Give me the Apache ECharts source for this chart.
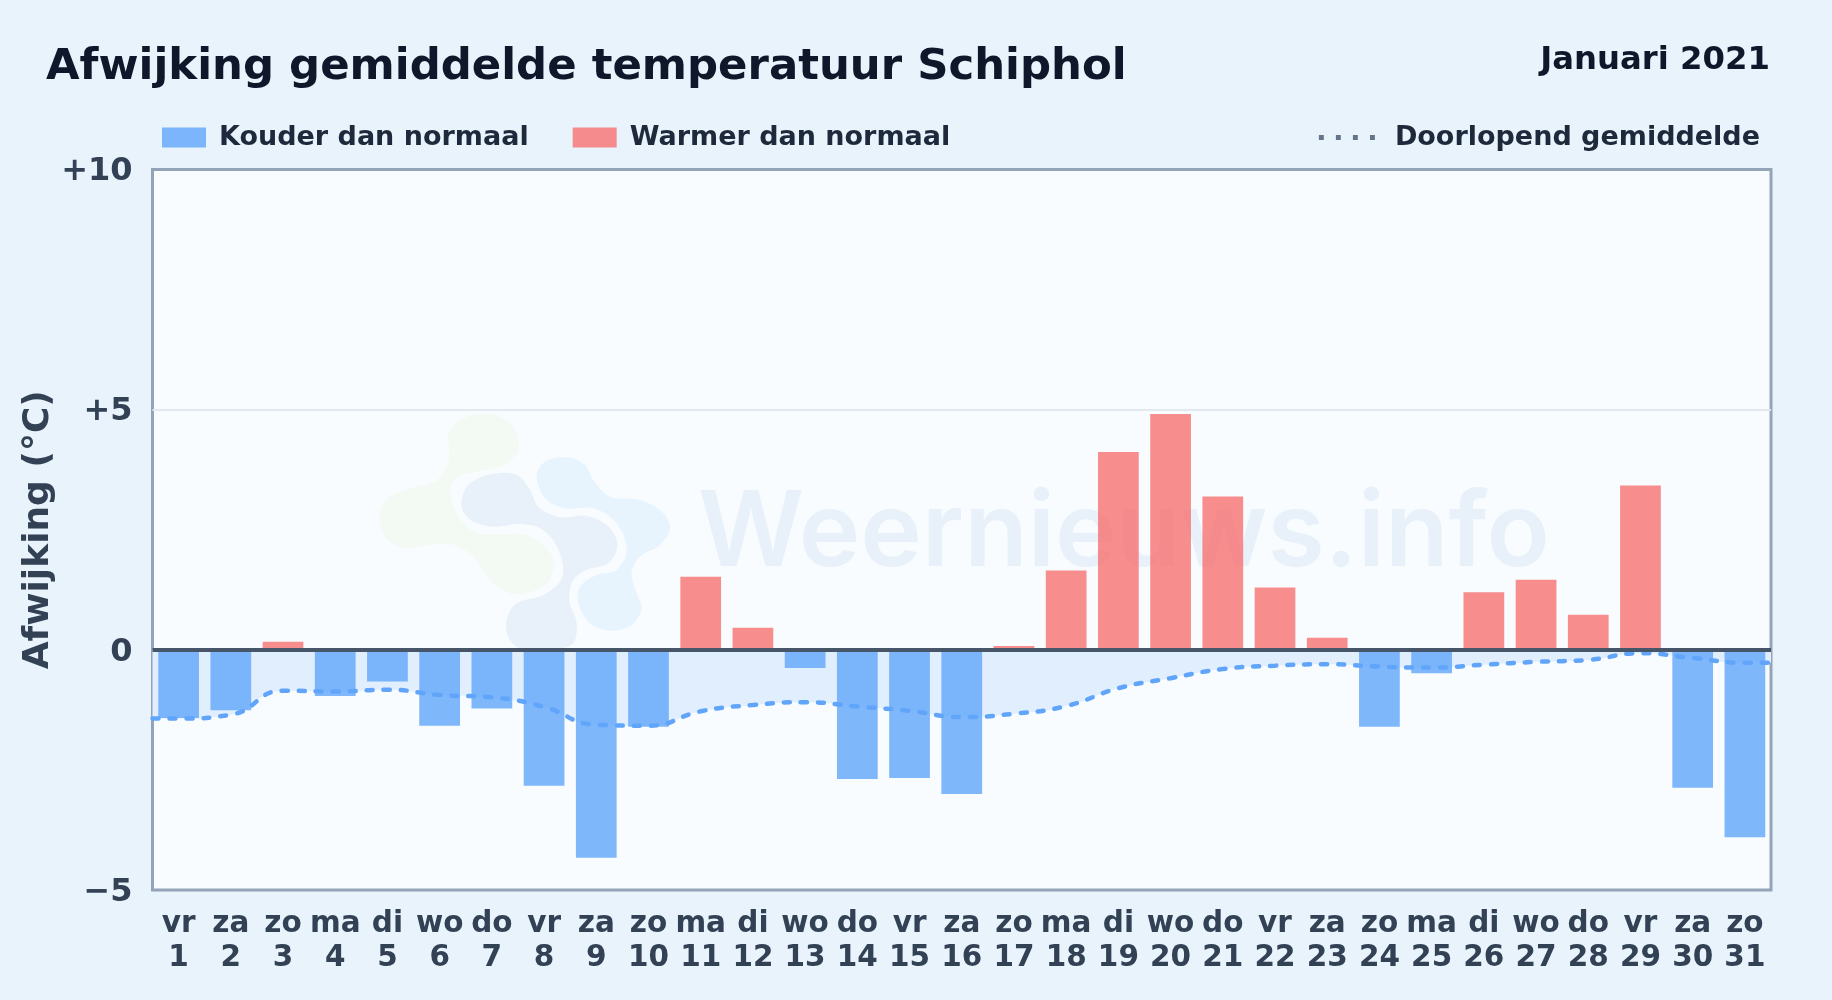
<!DOCTYPE html>
<html><head><meta charset="utf-8">
<style>html,body{margin:0;padding:0;background:#e8f3fc}#c{width:1832px;height:1000px}</style>
<script src="https://cdn.jsdelivr.net/npm/echarts@6/dist/echarts.min.js"></script>
</head><body><div id="c"></div>
<script>
const weekdays = ['vr','za','zo','ma','di','wo','do','vr','za','zo','ma','di','wo','do','vr','za','zo','ma','di','wo','do','vr','za','zo','ma','di','wo','do','vr','za','zo'];
const dayNumbers = [1,2,3,4,5,6,7,8,9,10,11,12,13,14,15,16,17,18,19,20,21,22,23,24,25,26,27,28,29,30,31];
const deviation = [-1.42,-1.26,0.17,-0.96,-0.66,-1.58,-1.22,-2.83,-4.33,-1.6,1.52,0.46,-0.38,-2.69,-2.67,-3.0,0.08,1.65,4.12,4.91,3.19,1.3,0.25,-1.6,-0.49,1.2,1.46,0.73,3.42,-2.87,-3.9];
const runningMean = [-1.43,-1.35,-0.85,-0.87,-0.83,-0.94,-0.99,-1.19,-1.56,-1.58,-1.28,-1.15,-1.09,-1.18,-1.27,-1.4,-1.33,-1.17,-0.8,-0.59,-0.4,-0.33,-0.3,-0.35,-0.37,-0.31,-0.25,-0.21,-0.07,-0.17,-0.27];
const yTicks = {min:-5,max:10,step:5};

const F = '"DejaVu Sans"';
const categories = weekdays.map((w,i)=>w+'\n'+dayNumbers[i]);
const cold = deviation.map(v=>v<0?v:null);
const warm = deviation.map(v=>v>=0?v:null);
const linePts = [[0.5,runningMean[0]]].concat(runningMean.map((v,i)=>[dayNumbers[i],v]),[[31.5,runningMean[30]]]);

const blobs = [
 {fill:'#f3f9f3',pts:[[265,130],[310,85],[370,72],[430,85],[470,130],[472,185],[430,225],[350,245],[295,258],[270,300],[290,370],[340,425],[420,433],[500,435],[560,475],[582,525],[555,585],[470,612],[410,590],[370,540],[330,490],[270,462],[200,465],[130,473],[80,445],[58,385],[80,330],[150,295],[225,275],[262,225],[268,170]]},
 {fill:'#e8f0f9',pts:[[305,330],[330,280],[400,252],[470,255],[510,300],[535,350],[600,382],[680,378],[745,410],[772,465],[745,520],[680,540],[640,570],[628,630],[650,700],[640,760],[600,775],[480,775],[445,740],[440,690],[470,640],[550,615],[605,565],[600,490],[550,420],[480,402],[400,410],[340,395],[310,365]]},
 {fill:'#e7f4fe',pts:[[530,260],[555,215],[620,202],[675,225],[700,270],[750,320],[830,328],[900,360],[930,410],[900,465],[840,500],[815,550],[830,610],[845,655],[815,705],[750,722],[690,700],[655,640],[660,590],[710,555],[770,540],[800,480],[770,400],[700,355],[620,355],[560,330]]}
];

const chart = echarts.init(document.getElementById('c'),null,{renderer:'canvas'});
chart.setOption({
 animation:false,
 backgroundColor:'#e8f3fc',
 textStyle:{fontFamily:F},
 title:[
  {text:'Afwijking gemiddelde temperatuur Schiphol',left:46,top:46,padding:0,textStyle:{fontFamily:F,fontWeight:'bold',fontSize:43.4,color:'#0f172a'}},
  {text:'Januari 2021',right:62,top:45,padding:0,textStyle:{fontFamily:F,fontWeight:'bold',fontSize:32.3,color:'#0f172a'}}
 ],
 legend:[
  {left:162,top:124,padding:0,itemWidth:44,itemHeight:20,itemGap:44,icon:'rect',selectedMode:false,
   data:['Kouder dan normaal','Warmer dan normaal'],
   textStyle:{fontFamily:F,fontWeight:'bold',fontSize:27,color:'#1e293b',padding:[2,0,0,8]}},
  {right:72,top:124,padding:0,itemWidth:56,itemHeight:20,selectedMode:false,
   data:[{name:'Doorlopend gemiddelde',icon:'path://M0 0H5V5H0ZM17.3 0H22.3V5H17.3ZM34.6 0H39.6V5H34.6ZM52 0H57V5H52Z',itemStyle:{color:'#64748b'}}],
   textStyle:{fontFamily:F,fontWeight:'bold',fontSize:27,color:'#1e293b',padding:[2,0,0,15]}}
 ],
 grid:{left:152.5,right:61,top:169.5,bottom:110,show:true,backgroundColor:'#f8fcff',borderColor:'#94a3b8',borderWidth:3},
 graphic:[
  ...blobs.map(b=>({type:'polygon',z:1,silent:true,shape:{points:b.pts.map(p=>[360+p[0]/3,390+p[1]/3]),smooth:0.35},style:{fill:b.fill}})),
  {type:'text',z:1,silent:true,x:698,y:483,style:{text:'Weernieuws.info',fontFamily:'Inter',fontWeight:600,fontSize:104,fill:'#e8f1fa',textVerticalAlign:'top'}}
 ],
 xAxis:[
  {type:'category',data:categories,position:'bottom',axisLine:{show:false,onZero:false},axisTick:{show:false},splitLine:{show:false},
   axisLabel:{interval:0,margin:17,fontFamily:F,fontWeight:'bold',fontSize:29.5,lineHeight:34,color:'#334155'}},
  {type:'value',min:0.5,max:31.5,show:false}
 ],
 yAxis:{type:'value',min:yTicks.min,max:yTicks.max,interval:yTicks.step,
  name:'Afwijking (°C)',nameLocation:'middle',nameGap:96,nameMoveOverlap:false,nameTextStyle:{fontFamily:F,fontWeight:'bold',fontSize:36,color:'#334155'},
  axisLine:{show:false},axisTick:{show:false},
  axisLabel:{margin:20,fontFamily:F,fontWeight:'bold',fontSize:32,color:'#334155',
   formatter:v=>'{t|'+(v>0?'+'+v:(v<0?'\u2212'+(-v):'0'))+'}',
   rich:{t:{fontFamily:F,fontWeight:'bold',fontSize:32,color:'#334155',padding:[5,0,0,0]}}},
  splitLine:{show:true,showMinLine:false,showMaxLine:false,lineStyle:{color:'#e2e8f0',width:2}}},
 series:[
  {type:'line',xAxisIndex:1,z:1,data:linePts,smooth:0.5,symbol:'none',silent:true,legendHoverLink:false,
   lineStyle:{width:0},areaStyle:{color:'#e0eefe',opacity:1}},
  {name:'Kouder dan normaal',type:'bar',stack:'d',barWidth:'78%',z:2,data:cold,itemStyle:{color:'rgba(96,165,250,0.8)'}},
  {name:'Warmer dan normaal',type:'bar',stack:'d',barWidth:'78%',z:2,data:warm,itemStyle:{color:'rgba(248,113,113,0.8)'}},
  {name:'Doorlopend gemiddelde',type:'line',xAxisIndex:1,z:4,data:linePts,smooth:0.5,symbol:'none',
   lineStyle:{color:'#60a5fa',width:4.5,type:[6,11],cap:'round'},
   markLine:{silent:true,symbol:'none',label:{show:false},lineStyle:{color:'#475569',width:4,type:'solid'},data:[{yAxis:0}]}}
 ]
});
</script></body></html>
